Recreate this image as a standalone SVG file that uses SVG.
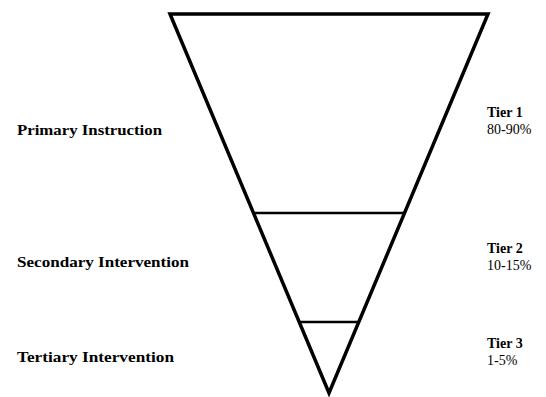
<svg xmlns="http://www.w3.org/2000/svg" width="546" height="397" viewBox="0 0 546 397">
<style>
.shape{fill:none;stroke:#000;stroke-width:3.5;stroke-linejoin:miter}
.div{stroke:#000;stroke-width:2.5}
.lbl{font-family:"Liberation Serif","DejaVu Serif",serif;font-weight:bold;font-size:15.5px;fill:#000}
.tier{font-family:"Liberation Serif","Times New Roman",serif;font-size:14px;fill:#000}
.tb{font-weight:bold}
</style>
<rect width="546" height="397" fill="#fff"/>
<g id="funnel">
<polygon class="shape" points="170,14 488,14 329,393"/>
</g>
<g id="connectors">
<line class="div" x1="253" y1="213" x2="404" y2="213"/>
<line class="div" x1="299" y1="322" x2="358" y2="322"/>
</g>
<g id="primary">
<text class="lbl" x="17" y="135" textLength="145" lengthAdjust="spacingAndGlyphs">Primary Instruction</text>
</g>
<g id="secondary">
<text class="lbl" x="17" y="267" textLength="172" lengthAdjust="spacingAndGlyphs">Secondary Intervention</text>
</g>
<g id="tertiary">
<text class="lbl" x="17" y="362" textLength="157" lengthAdjust="spacingAndGlyphs">Tertiary Intervention</text>
</g>
<g id="tier1">
<text class="tier tb" x="487" y="117">Tier 1</text>
<text class="tier" x="487" y="134">80-90%</text>
</g>
<g id="tier2">
<text class="tier tb" x="487" y="253">Tier 2</text>
<text class="tier" x="487" y="270">10-15%</text>
</g>
<g id="tier3">
<text class="tier tb" x="487" y="348">Tier 3</text>
<text class="tier" x="487" y="365">1-5%</text>
</g>
</svg>
